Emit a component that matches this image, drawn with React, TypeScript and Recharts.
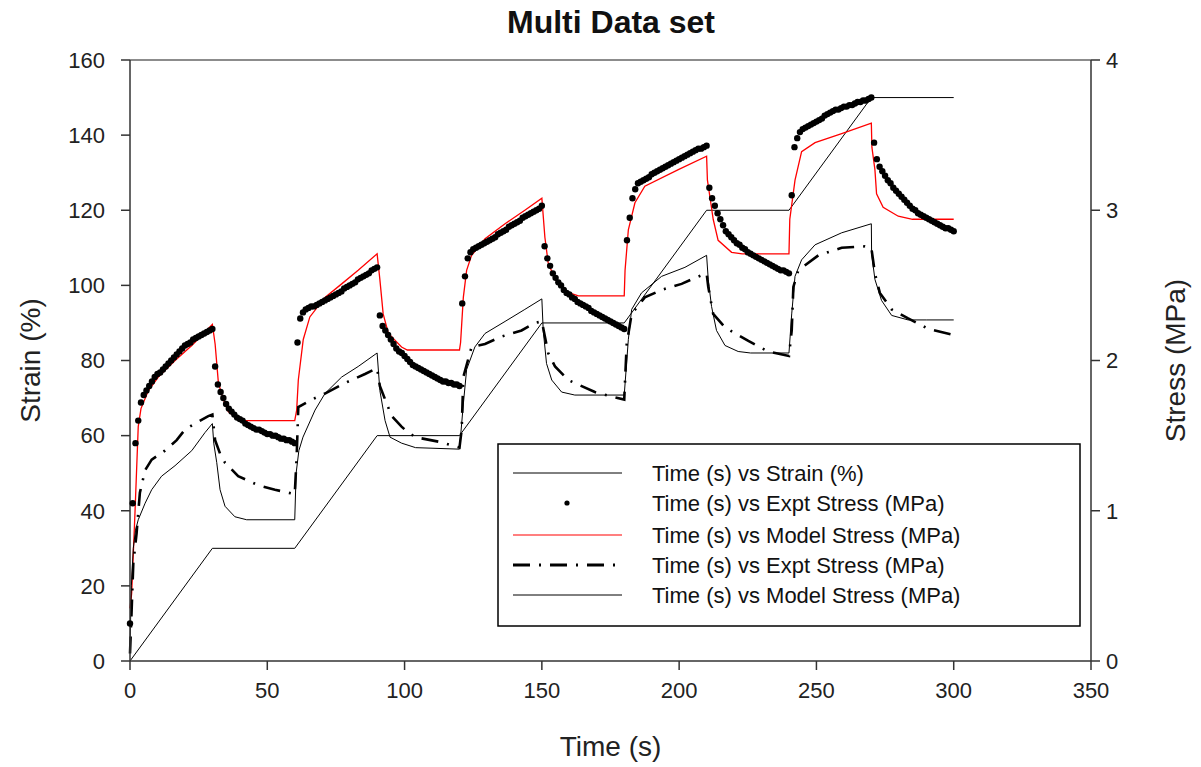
import React from 'react';
import { ComposedChart, Line, Scatter, XAxis, YAxis, ReferenceLine, Legend } from 'recharts';

const timeTicks = [0, 50, 100, 150, 200, 250, 300, 350];
const strainTicks = [0, 20, 40, 60, 80, 100, 120, 140, 160];
const stressTicks = [0, 1, 2, 3, 4];

const seriesNames = [
  'Time (s) vs Strain (%)',
  'Time (s) vs Expt Stress (MPa)',
  'Time (s) vs Model Stress (MPa)',
  'Time (s) vs Expt Stress (MPa)',
  'Time (s) vs Model Stress (MPa)',
];

// Strain (%) vs time (s)
const strainPoints: [number, number][] = [
  [0, 0], [30, 30], [60, 30], [90, 60], [120, 60], [150, 90], [180, 90],
  [210, 120], [240, 120], [270, 150], [300, 150],
];

// Expt stress (MPa), one reading per second, t = 0..300
const exptStressA: number[] = [
  0.25, 1.05, 1.45, 1.6, 1.72, 1.77, 1.8, 1.83, 1.86, 1.89, 1.91, 1.92, 1.94, 1.96, 1.98, 2.0, 2.02, 2.04, 2.06, 2.08, 2.1, 2.11, 2.12, 2.14, 2.15, 2.16, 2.17, 2.18, 2.19, 2.2, 2.21,
  1.96, 1.84, 1.79, 1.75, 1.71, 1.68, 1.66, 1.64, 1.62, 1.61, 1.6, 1.58, 1.57, 1.56, 1.55, 1.54, 1.54, 1.53, 1.52, 1.51, 1.51, 1.5, 1.5, 1.49, 1.48, 1.48, 1.47, 1.47, 1.46, 1.45,
  2.12, 2.28, 2.32, 2.34, 2.35, 2.36, 2.36, 2.37, 2.38, 2.39, 2.4, 2.41, 2.42, 2.43, 2.44, 2.45, 2.46, 2.48, 2.49, 2.5, 2.51, 2.52, 2.54, 2.55, 2.56, 2.57, 2.58, 2.6, 2.61, 2.62,
  2.3, 2.23, 2.2, 2.17, 2.14, 2.11, 2.08, 2.06, 2.05, 2.03, 2.01, 1.99, 1.97, 1.96, 1.95, 1.94, 1.93, 1.92, 1.91, 1.9, 1.89, 1.88, 1.87, 1.86, 1.86, 1.85, 1.85, 1.84, 1.84, 1.83,
  2.38, 2.56, 2.68, 2.72, 2.74, 2.75, 2.76, 2.77, 2.78, 2.79, 2.8, 2.81, 2.82, 2.84, 2.85, 2.86, 2.87, 2.89, 2.9, 2.91, 2.92, 2.93, 2.95, 2.96, 2.97, 2.98, 2.99, 3.0, 3.01, 3.03,
  2.76, 2.68, 2.63, 2.58, 2.55, 2.52, 2.5, 2.47, 2.45, 2.44, 2.42, 2.41, 2.39, 2.38, 2.37, 2.36, 2.35, 2.33, 2.32, 2.31, 2.3, 2.29, 2.28, 2.27, 2.26, 2.25, 2.24, 2.23, 2.22, 2.21,
  2.8, 2.95, 3.08, 3.14, 3.18, 3.19, 3.2, 3.21, 3.22, 3.24, 3.25, 3.26, 3.27, 3.28, 3.29, 3.3, 3.31, 3.32, 3.33, 3.34, 3.35, 3.36, 3.37, 3.38, 3.39, 3.4, 3.41, 3.41, 3.42, 3.43,
  3.15, 3.08, 3.03, 2.98, 2.94, 2.9, 2.86, 2.84, 2.82, 2.8, 2.78, 2.77, 2.75, 2.74, 2.72, 2.71, 2.7, 2.69, 2.68, 2.67, 2.66, 2.65, 2.64, 2.63, 2.62, 2.61, 2.6, 2.6, 2.59, 2.58,
  3.1, 3.42, 3.48, 3.52, 3.54, 3.55, 3.56, 3.57, 3.58, 3.59, 3.6, 3.61, 3.63, 3.64, 3.65, 3.66, 3.67, 3.67, 3.68, 3.69, 3.69, 3.7, 3.7, 3.71, 3.72, 3.72, 3.73, 3.73, 3.74, 3.75,
  3.45, 3.34, 3.29, 3.26, 3.23, 3.2, 3.18, 3.15, 3.13, 3.11, 3.09, 3.07, 3.05, 3.03, 3.01, 3.0, 2.98, 2.97, 2.96, 2.95, 2.94, 2.93, 2.92, 2.91, 2.9, 2.89, 2.88, 2.88, 2.87, 2.86,
];

// Model stress (MPa), red
const modelStressA: [number, number][] = [
  [0, 0.35], [0.6, 0.45], [1.8, 0.98], [3, 1.56], [4, 1.68], [6.7, 1.8], [10.3, 1.89], [16.4, 2.0], [22.5, 2.1], [30, 2.24],
  [31, 2.11], [32.2, 1.85], [34, 1.74], [35.8, 1.66], [40, 1.6], [60, 1.6],
  [60.7, 1.67], [61.3, 1.87], [63.1, 2.14], [65.5, 2.29], [71, 2.42], [77.1, 2.51], [83.1, 2.6], [90, 2.71],
  [91, 2.54], [92.2, 2.31], [94.1, 2.18], [98.9, 2.09], [101, 2.07], [120, 2.07],
  [120.4, 2.12], [121.4, 2.42], [122.6, 2.6], [124.4, 2.7], [129.3, 2.81], [136.6, 2.91], [143.8, 3.0], [150, 3.08],
  [151.1, 2.82], [152.3, 2.65], [154.8, 2.54], [158.4, 2.46], [163.3, 2.43], [180, 2.43],
  [180.3, 2.6], [181.5, 2.87], [183.9, 3.05], [187.5, 3.16], [199.7, 3.27], [210, 3.36],
  [210.3, 3.2], [211.2, 3.09], [212.4, 2.94], [214.2, 2.8], [219.1, 2.72], [223, 2.71], [240, 2.71],
  [240.3, 2.94], [242.2, 3.2], [244.6, 3.39], [249.5, 3.45], [259.2, 3.51], [270, 3.58],
  [270.2, 3.42], [271.3, 3.27], [271.9, 3.11], [274.3, 3.02], [279.8, 2.96], [285, 2.94], [300, 2.94],
];

// Expt stress (MPa), dash-dot
const exptStressB: [number, number][] = [
  [0, 0.05], [0.6, 0.34], [1.2, 0.65], [2.4, 0.85], [3.6, 1.12], [5.5, 1.27], [7.9, 1.34], [12.7, 1.4], [17, 1.47], [20, 1.54], [23.7, 1.58], [28.5, 1.63], [30, 1.64],
  [31, 1.47], [32.8, 1.38], [34.6, 1.32], [39.4, 1.23], [46.7, 1.17], [52.8, 1.14], [57.6, 1.12], [60, 1.11],
  [60.7, 1.36], [61.3, 1.69], [66.2, 1.74], [71, 1.78], [78.3, 1.85], [85.6, 1.91], [90, 1.95],
  [91, 1.83], [95.3, 1.63], [98.9, 1.56], [100.1, 1.54], [103.8, 1.49], [112.3, 1.46], [120, 1.42],
  [120.8, 1.54], [121.4, 1.89], [124.4, 2.09], [129.3, 2.11], [135.4, 2.16], [142.6, 2.2], [147.5, 2.25], [150, 2.26],
  [151.1, 2.16], [152.3, 2.05], [154.8, 1.96], [159.6, 1.87], [169.3, 1.79], [175.4, 1.76], [180, 1.74],
  [180.9, 2.11], [182.7, 2.31], [187.5, 2.42], [193.6, 2.47], [200.9, 2.51], [205.8, 2.55], [210, 2.58],
  [210.6, 2.49], [212.4, 2.31], [216.7, 2.22], [225.2, 2.13], [232.4, 2.06], [240, 2.03],
  [241, 2.2], [241.6, 2.49], [243.4, 2.6], [250.7, 2.7], [259.2, 2.75], [267.7, 2.76], [270, 2.75],
  [271.3, 2.58], [273.1, 2.45], [277.4, 2.34], [283.4, 2.28], [290.8, 2.21], [300, 2.17],
];

// Model stress (MPa), thin black
const modelStressB: [number, number][] = [
  [0, 0.1], [0.5, 0.5], [1.2, 0.75], [2, 0.87], [3, 0.94], [5.5, 1.05], [7.9, 1.14], [11.5, 1.23], [16.4, 1.3], [22.5, 1.4], [27.3, 1.52], [30, 1.58],
  [30.5, 1.45], [31.6, 1.32], [32.8, 1.14], [34.6, 1.03], [38.2, 0.96], [42.5, 0.94], [60, 0.94],
  [60.5, 1.25], [61.5, 1.4], [63, 1.49], [67.4, 1.67], [71, 1.78], [77.1, 1.89], [83.1, 1.96], [90, 2.05],
  [91, 1.8], [92.9, 1.6], [94.7, 1.49], [98.9, 1.45], [104, 1.42], [120, 1.41],
  [121.4, 1.71], [122.6, 1.94], [125.6, 2.09], [129.3, 2.18], [136.6, 2.26], [143.8, 2.34], [150, 2.41],
  [150.5, 2.2], [151.7, 1.98], [153.6, 1.87], [157.2, 1.79], [162, 1.77], [180, 1.77],
  [181.5, 2.14], [182.7, 2.34], [186.3, 2.45], [193.6, 2.56], [202.1, 2.62], [210, 2.7],
  [210.6, 2.54], [211.8, 2.36], [213.6, 2.2], [216.7, 2.1], [221.5, 2.06], [226, 2.05], [240, 2.05],
  [241, 2.31], [242.2, 2.56], [244.6, 2.67], [249.5, 2.77], [259.2, 2.85], [270, 2.91],
  [270.1, 2.71], [271.3, 2.54], [273.7, 2.4], [277.4, 2.3], [283.4, 2.27], [290, 2.27], [300, 2.27],
];

const toRows = (pts: [number, number][]) => pts.map(([t, v]) => ({ t, v }));
const strainData = toRows(strainPoints);
const exptAData = exptStressA.map((v, i) => ({ t: i, v }));
const modelAData = toRows(modelStressA);
const exptBData = toRows(exptStressB);
const modelBData = toRows(modelStressB);

const FONT = '"Liberation Sans", Arial, sans-serif';
const AXIS = '#333';
const TXT = '#222';
const DASHDOT = '17 9 2 9';

const renderLegend = () => {
  const ys = [30, 60, 92, 122, 152];
  return (
    <svg width={585} height={185} style={{ display: 'block' }}>
      <rect x={1} y={1} width={582} height={182} fill="#fff" stroke="#000" strokeWidth={1.5} />
      <line x1={16} x2={125} y1={ys[0]} y2={ys[0]} stroke="#000" strokeWidth={1} />
      <circle cx={70} cy={ys[1]} r={2.6} fill="#000" />
      <line x1={16} x2={125} y1={ys[2]} y2={ys[2]} stroke="#ff0000" strokeWidth={1.2} />
      <line x1={16} x2={125} y1={ys[3]} y2={ys[3]} stroke="#000" strokeWidth={3} strokeDasharray={DASHDOT} />
      <line x1={16} x2={125} y1={ys[4]} y2={ys[4]} stroke="#000" strokeWidth={1} />
      {seriesNames.map((n, i) => (
        <text key={i} x={155} y={ys[i] + 8} fontSize={22} fontFamily={FONT} fill="#111">
          {n}
        </text>
      ))}
    </svg>
  );
};

const dotShape = (props: any) => <circle cx={props.cx} cy={props.cy} r={3.2} fill="#000" />;

export default function App() {
  return (
    <div style={{ position: 'relative', width: 1185, height: 759, background: '#fff' }}>
      <div
        style={{
          position: 'absolute', left: 303, top: -8, width: 600, height: 44, lineHeight: '44px',
          textAlign: 'center', fontFamily: FONT, fontWeight: 'bold', fontSize: 32, color: '#111',
        }}
      >
        Multi Data set
      </div>
      <ComposedChart width={1185} height={759} margin={{ top: 52, right: 0, bottom: 0, left: 0 }}>
        <XAxis
          type="number" dataKey="t" domain={[0, 350]} ticks={timeTicks} interval={0}
          height={106} tickSize={9} tickMargin={12}
          axisLine={{ stroke: AXIS, strokeWidth: 1.5 }} tickLine={{ stroke: AXIS, strokeWidth: 1.5 }}
          tick={{ fill: TXT, fontSize: 22, fontFamily: FONT }}
          label={{
            content: (p: any) => (
              <text x={p.viewBox.x + p.viewBox.width / 2} y={p.viewBox.y + 95} textAnchor="middle"
                fontSize={28} fontFamily={FONT} fill={TXT}>Time (s)</text>
            ),
          }}
        />
        <YAxis
          yAxisId="left" type="number" dataKey="v" domain={[0, 160]} ticks={strainTicks} interval={0}
          width={122} tickSize={9} tickMargin={16}
          axisLine={{ stroke: AXIS, strokeWidth: 1.5 }} tickLine={{ stroke: AXIS, strokeWidth: 1.5 }}
          tick={{ fill: TXT, fontSize: 22, fontFamily: FONT }}
          label={{
            content: (p: any) => {
              const cx = 22;
              const cy = p.viewBox.y + p.viewBox.height / 2;
              return (
                <text x={cx} y={cy} transform={`rotate(-90 ${cx} ${cy})`} textAnchor="middle"
                  dominantBaseline="central" fontSize={28} fontFamily={FONT} fill={TXT}>Strain (%)</text>
              );
            },
          }}
        />
        <YAxis
          yAxisId="right" orientation="right" type="number" dataKey="v" domain={[0, 4]} ticks={stressTicks}
          interval={0} width={102} tickSize={9} tickMargin={6}
          axisLine={{ stroke: AXIS, strokeWidth: 1.5 }} tickLine={{ stroke: AXIS, strokeWidth: 1.5 }}
          tick={{ fill: TXT, fontSize: 22, fontFamily: FONT }}
          label={{
            content: (p: any) => {
              const cx = 1167;
              const cy = p.viewBox.y + p.viewBox.height / 2;
              return (
                <text x={cx} y={cy} transform={`rotate(-90 ${cx} ${cy})`} textAnchor="middle"
                  dominantBaseline="central" fontSize={28} fontFamily={FONT} fill={TXT}>Stress (MPa)</text>
              );
            },
          }}
        />
        <ReferenceLine yAxisId="left" y={160} stroke="#666" strokeWidth={1.5} />
        <Line yAxisId="left" data={strainData} dataKey="v" type="linear" stroke="#000" strokeWidth={1}
          dot={false} activeDot={false} isAnimationActive={false} name={seriesNames[0]} />
        <Scatter yAxisId="right" data={exptAData} dataKey="v" shape={dotShape} fill="#000"
          isAnimationActive={false} name={seriesNames[1]} />
        <Line yAxisId="right" data={modelAData} dataKey="v" type="linear" stroke="#ff0000" strokeWidth={1.3}
          dot={false} activeDot={false} isAnimationActive={false} name={seriesNames[2]} />
        <Line yAxisId="right" data={exptBData} dataKey="v" type="linear" stroke="#000" strokeWidth={2.6}
          strokeDasharray={DASHDOT} dot={false} activeDot={false} isAnimationActive={false} name={seriesNames[3]} />
        <Line yAxisId="right" data={modelBData} dataKey="v" type="linear" stroke="#000" strokeWidth={1}
          dot={false} activeDot={false} isAnimationActive={false} name={seriesNames[4]} />
        <Legend layout="vertical" align="center" verticalAlign="middle" content={renderLegend}
          wrapperStyle={{ position: 'absolute', left: 489, top: 435, width: 585, height: 185 }} />
      </ComposedChart>
    </div>
  );
}
